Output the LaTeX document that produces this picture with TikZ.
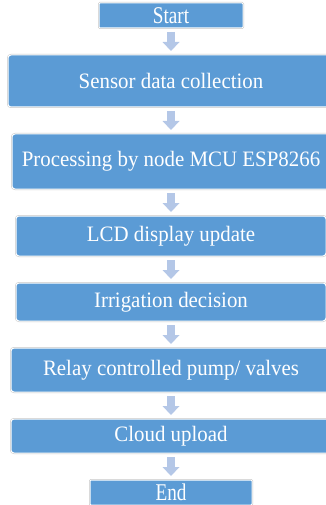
\documentclass[tikz,border=0pt]{standalone}
\usepackage{fontspec}
\usepackage{xcolor}
\usetikzlibrary{arrows.meta, positioning}
\setmainfont{Liberation Serif}
\newfontfamily\boxfont[FakeStretch=0.95]{Liberation Serif}
\newfontfamily\termfont[FakeStretch=0.8]{Liberation Serif}
\definecolor{boxblue}{RGB}{91,155,213}
\definecolor{arrowblue}{RGB}{180,199,231}

\begin{document}
\begin{tikzpicture}[
    node distance=27pt,
    stepbox/.style={rectangle, rounded corners=3pt, inner sep=0pt, outer sep=0pt,
                    text centered, text=white, fill=boxblue,
                    draw=white, line width=1pt,
                    preaction={draw=black!22, line width=2pt},
                    font=\boxfont\fontsize{22}{24}\selectfont},
    termbox/.style={stepbox, rounded corners=1pt,
                    font=\termfont\fontsize{24}{26}\selectfont},
    flowarrow/.style={-{Triangle[width=17pt,length=9pt,line width=0pt]},
                      line width=8pt, draw=arrowblue, fill=arrowblue,
                      shorten <=4pt, shorten >=4pt}
]
\useasboundingbox (0pt,0pt) rectangle (325pt,-505pt);

% Steps
\node (start) [termbox, minimum width=144pt, minimum height=25pt] at (171pt,-15.5pt) {Start};
\node (sensor) [stepbox, below=of start, minimum width=326pt, minimum height=52pt] {Sensor data collection};
\node (esp) [stepbox, below=of sensor, minimum width=318pt, minimum height=55pt] {Processing by node MCU ESP8266};
\node (lcd) [stepbox, below=of esp, minimum width=310pt, minimum height=40pt] {LCD display update};
\node (decide) [stepbox, below=of lcd, minimum width=310pt, minimum height=38pt] {Irrigation decision};
\node (relay) [stepbox, below=of decide, minimum width=320pt, minimum height=44pt] {Relay controlled pump/ valves};
\node (cloud) [stepbox, below=of relay, minimum width=320pt, minimum height=34pt] {Cloud upload};
\node (finish) [termbox, below=of cloud, minimum width=162pt, minimum height=25pt] {End};

% Arrows
\draw [flowarrow] (start) -- (sensor);
\draw [flowarrow] (sensor) -- (esp);
\draw [flowarrow] (esp) -- (lcd);
\draw [flowarrow] (lcd) -- (decide);
\draw [flowarrow] (decide) -- (relay);
\draw [flowarrow] (relay) -- (cloud);
\draw [flowarrow] (cloud) -- (finish);

\end{tikzpicture}
\end{document}
